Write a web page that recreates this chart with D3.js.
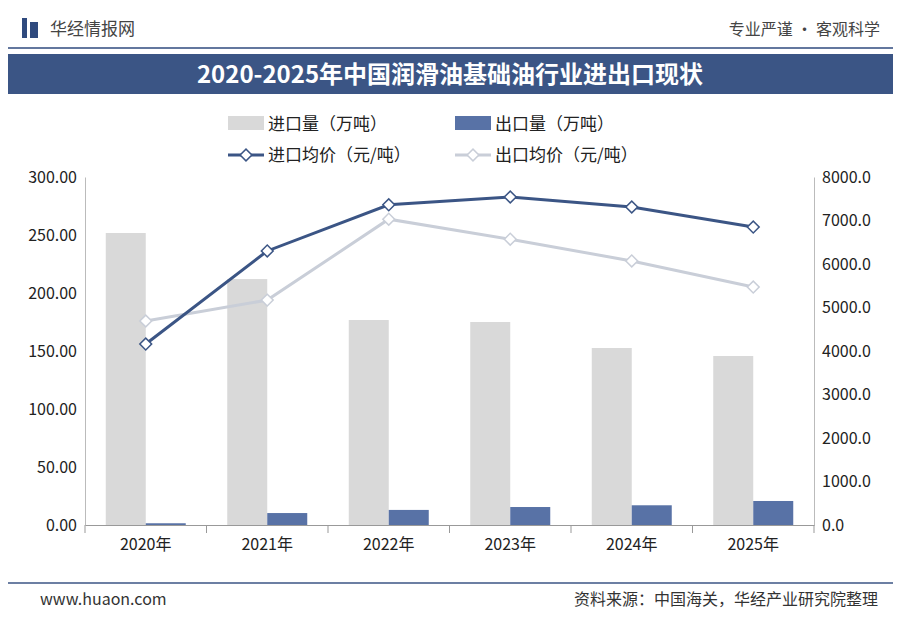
<!DOCTYPE html>
<html><head><meta charset="utf-8">
<script src="https://cdn.jsdelivr.net/npm/d3@7"></script>
<style>body{margin:0;background:#fff;font-family:"Noto Sans CJK SC","Noto Sans",sans-serif;}</style>
</head><body><div id="chart"></div>
<script>
const years = ["2020年","2021年","2022年","2023年","2024年","2025年"];
const importVol = [251.7, 212, 176.7, 175, 152.6, 145.7];
const exportVol = [1.5, 10.3, 13, 15.5, 17, 20.7];
const importPrice = [4160, 6300, 7360, 7540, 7310, 6850];
const exportPrice = [4690, 5170, 7030, 6570, 6070, 5470];
const leftTicks = [0, 50, 100, 150, 200, 250, 300];
const rightTicks = [0, 1000, 2000, 3000, 4000, 5000, 6000, 7000, 8000];

const W = 900, H = 623;
const svg = d3.select("#chart").append("svg").attr("width", W).attr("height", H);
const font = "Noto Sans CJK SC";

// header
svg.append("rect").attr("x", 22).attr("y", 18).attr("width", 5).attr("height", 20).attr("fill", "#2f4a7e");
svg.append("rect").attr("x", 30).attr("y", 22).attr("width", 8).attr("height", 16).attr("fill", "#2f4a7e");
svg.append("text").attr("x", 50).attr("y", 35).text("华经情报网").attr("font-size", 17).attr("fill", "#444").attr("font-family", font);
svg.append("text").attr("x", 880).attr("y", 35).attr("text-anchor", "end").text("专业严谨 • 客观科学").attr("font-size", 16).attr("fill", "#444").attr("font-family", font);
svg.append("line").attr("x1", 8).attr("x2", 893).attr("y1", 48).attr("y2", 48).attr("stroke", "#2f4a7e").attr("stroke-width", 1.5);
svg.append("rect").attr("x", 8).attr("y", 54).attr("width", 885).attr("height", 40).attr("fill", "#3b5585");
svg.append("text").attr("x", 450).attr("y", 83).attr("text-anchor", "middle").text("2020-2025年中国润滑油基础油行业进出口现状")
  .attr("font-size", 24).attr("font-weight", "bold").attr("fill", "#fff").attr("font-family", font);

const pLeft = 85, pRight = 814, pTop = 177, pBottom = 525;
const x = d3.scaleBand().domain(years).range([pLeft, pRight]);
const yL = d3.scaleLinear().domain([0, 300]).range([pBottom, pTop]);
const yR = d3.scaleLinear().domain([0, 8000]).range([pBottom, pTop]);
const bw = 40;

const g = svg.append("g");
g.selectAll(".imp").data(years).join("rect")
  .attr("x", d => x(d) + x.bandwidth() / 2 - bw).attr("width", bw)
  .attr("y", (d, i) => yL(importVol[i])).attr("height", (d, i) => pBottom - yL(importVol[i])).attr("fill", "#d9d9d9");
g.selectAll(".exp").data(years).join("rect")
  .attr("x", d => x(d) + x.bandwidth() / 2).attr("width", bw)
  .attr("y", (d, i) => yL(exportVol[i])).attr("height", (d, i) => pBottom - yL(exportVol[i])).attr("fill", "#5872a6");

// axes
const axL = svg.append("g").attr("transform", `translate(${pLeft},0)`).call(d3.axisLeft(yL).tickValues(leftTicks).tickFormat(d3.format(".2f")).tickSize(0).tickPadding(8));
const axR = svg.append("g").attr("transform", `translate(${pRight},0)`).call(d3.axisRight(yR).tickValues(rightTicks).tickFormat(d3.format(".1f")).tickSize(0).tickPadding(8));
const axB = svg.append("g").attr("transform", `translate(0,${pBottom})`).call(d3.axisBottom(x).tickSize(0).tickPadding(14));
[axL, axR].forEach(a => a.select(".domain").attr("stroke", "#bbb"));
axB.select(".domain").attr("stroke", "#999");
axB.selectAll(".sep").data(d3.range(years.length + 1)).join("line")
  .attr("x1", i => pLeft + i * x.step()).attr("x2", i => pLeft + i * x.step()).attr("y1", 0).attr("y2", 8).attr("stroke", "#999");
svg.selectAll(".tick text").attr("font-size", 16).attr("fill", "#222").attr("font-family", "Noto Sans CJK SC");

const cx = d => x(d) + x.bandwidth() / 2;
const marker = d3.symbol(d3.symbolSquare, 70);
function series(vals, color) {
  svg.append("path").datum(vals).attr("fill", "none").attr("stroke", color).attr("stroke-width", 3)
    .attr("d", d3.line().x((v, i) => cx(years[i])).y(v => yR(v)));
  svg.selectAll(null).data(vals).join("path")
    .attr("d", marker)
    .attr("transform", (v, i) => `translate(${cx(years[i])},${yR(v)}) rotate(45)`)
    .attr("fill", "#fff").attr("stroke", color).attr("stroke-width", 1.5);
}
series(exportPrice, "#c9ced8");
series(importPrice, "#3b5585");

// legend
const lg = svg.append("g").attr("font-family", font).attr("font-size", 17).attr("fill", "#222");
lg.append("rect").attr("x", 228).attr("y", 116).attr("width", 36).attr("height", 14).attr("fill", "#d9d9d9");
lg.append("text").attr("x", 268).attr("y", 130).text("进口量（万吨）");
lg.append("rect").attr("x", 455).attr("y", 116).attr("width", 36).attr("height", 14).attr("fill", "#5872a6");
lg.append("text").attr("x", 495).attr("y", 130).text("出口量（万吨）");
[[228, "#3b5585", "进口均价（元/吨）"], [455, "#c9ced8", "出口均价（元/吨）"]].forEach(([lx, c, t]) => {
  lg.append("line").attr("x1", lx).attr("x2", lx + 36).attr("y1", 155).attr("y2", 155).attr("stroke", c).attr("stroke-width", 3);
  lg.append("path").attr("d", marker).attr("transform", `translate(${lx + 18},155) rotate(45)`).attr("fill", "#fff").attr("stroke", c).attr("stroke-width", 1.5);
  lg.append("text").attr("x", lx + 40).attr("y", 161).text(t);
});

// footer
svg.append("line").attr("x1", 8).attr("x2", 893).attr("y1", 583).attr("y2", 583).attr("stroke", "#3b5585").attr("stroke-width", 1.5);
svg.append("text").attr("x", 40).attr("y", 605).text("www.huaon.com").attr("font-size", 16).attr("fill", "#333").attr("font-family", font);
svg.append("text").attr("x", 878).attr("y", 605).attr("text-anchor", "end").text("资料来源：中国海关，华经产业研究院整理").attr("font-size", 16).attr("fill", "#333").attr("font-family", font);
</script></body></html>
